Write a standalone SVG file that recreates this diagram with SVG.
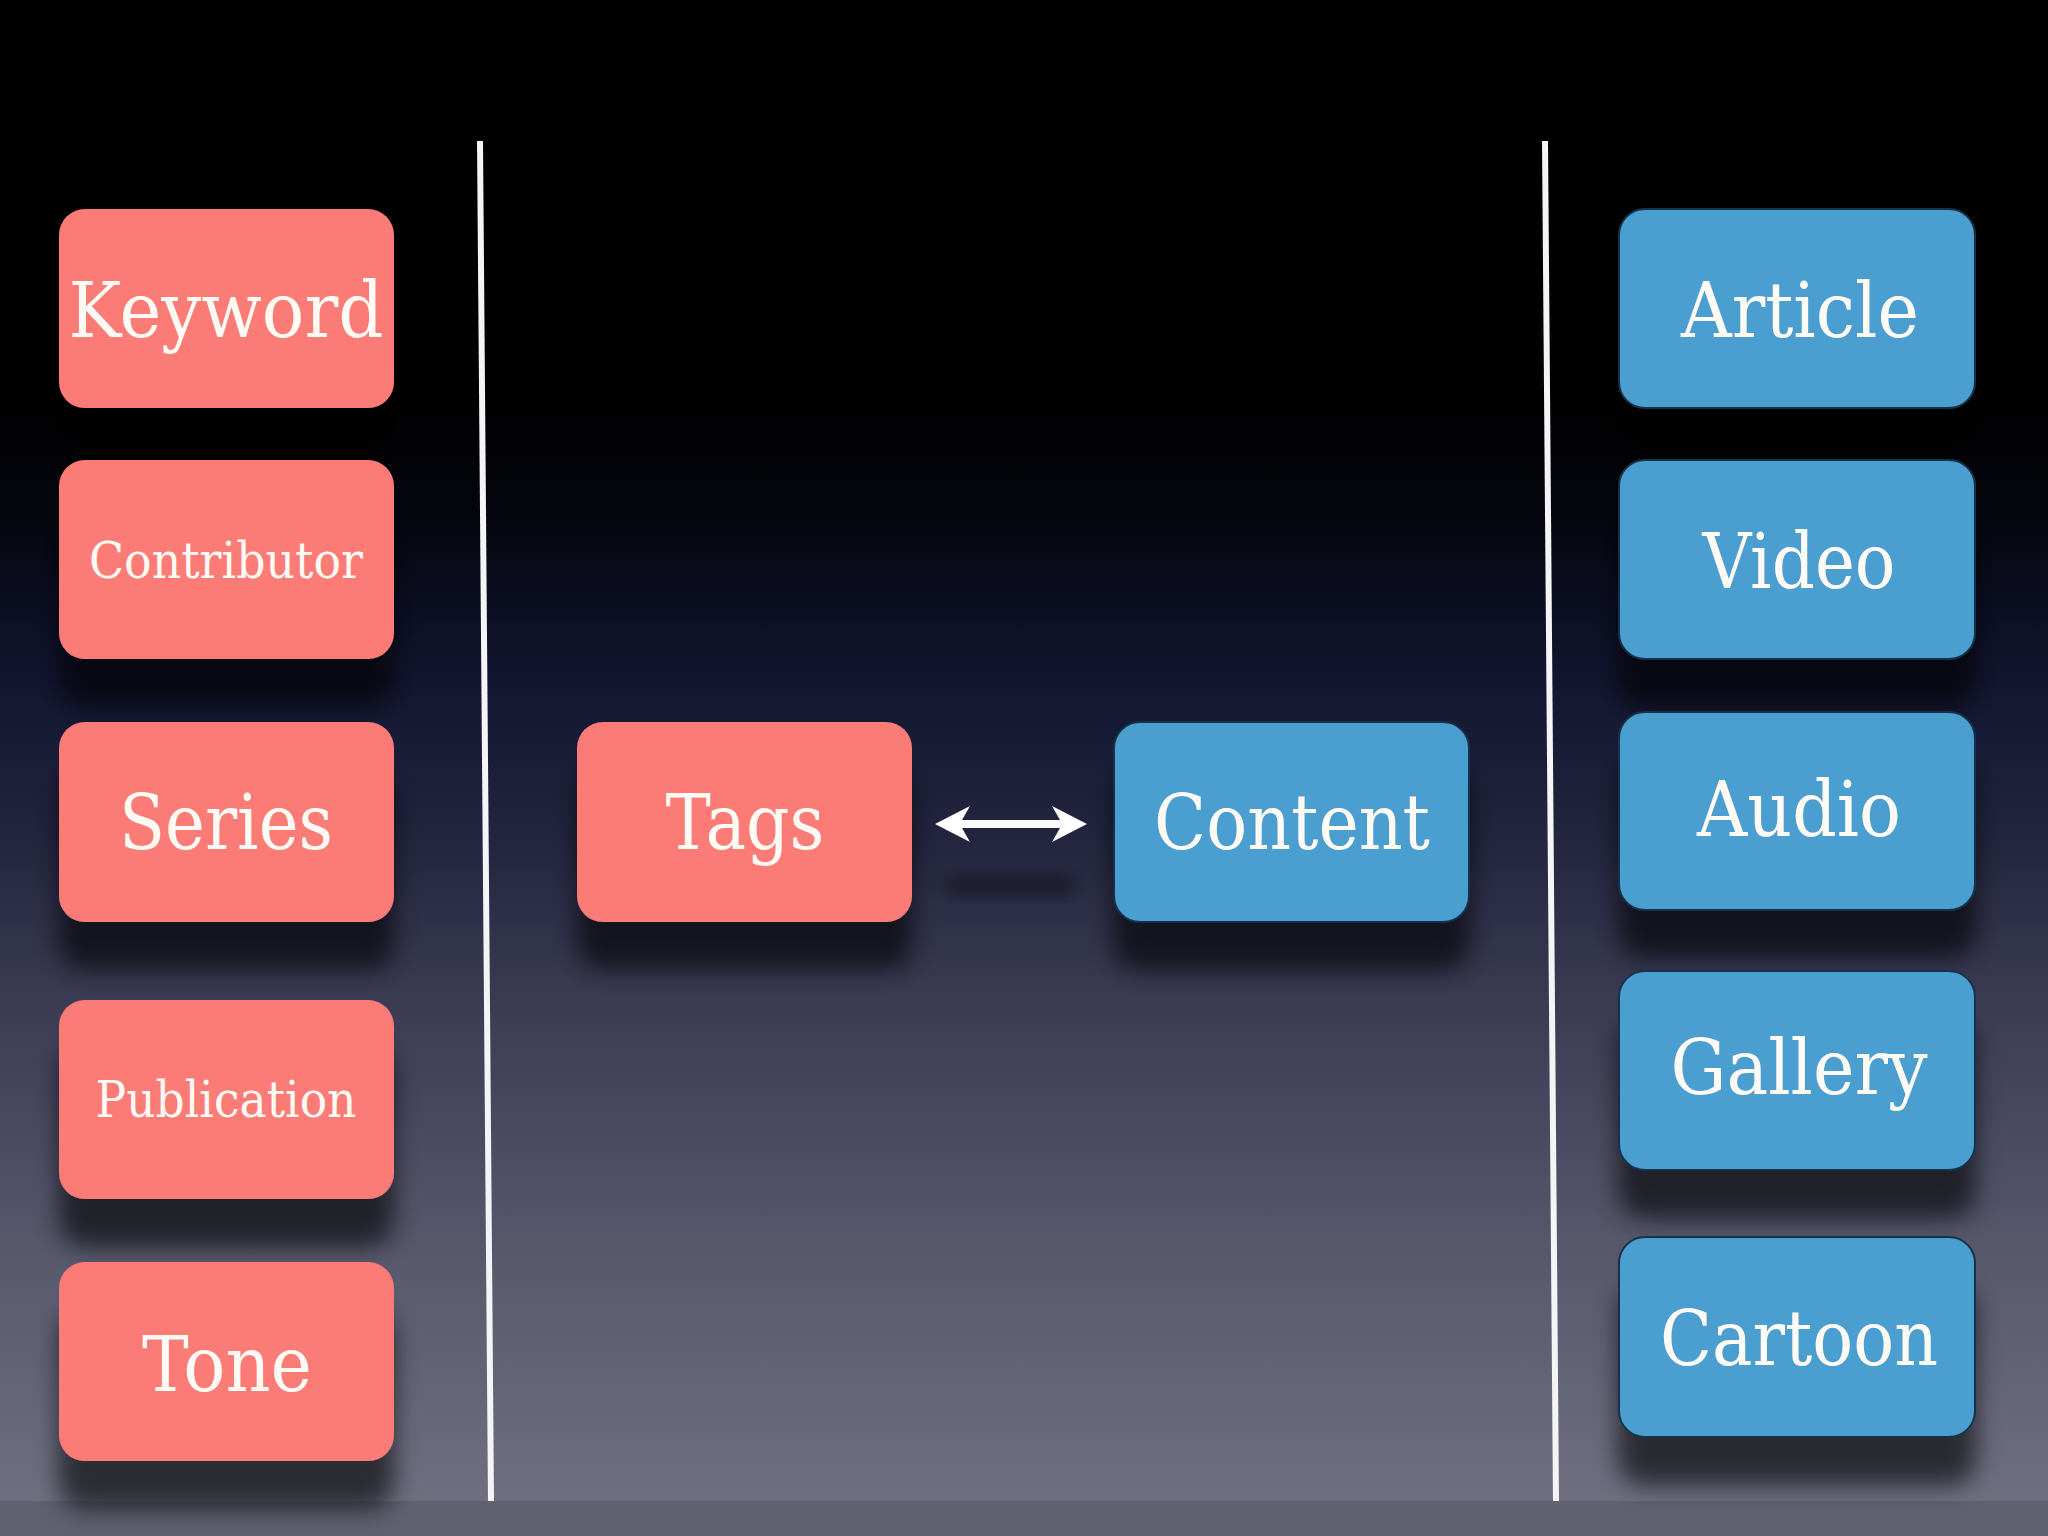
<svg xmlns="http://www.w3.org/2000/svg" width="2048" height="1536" viewBox="0 0 2048 1536">
  <style>
    .red { fill: #fb7c77; }
    .blue { fill: #4b9ed0; stroke: #17324a; stroke-width: 2; }
    .t { font-family: "DejaVu Serif", "Liberation Serif", serif; fill: #fffaf3; text-anchor: middle; }
    .big { font-size: 76px; }
    .small { font-size: 50px; }
    .divider { stroke: #f4f4f6; stroke-width: 6; }
  </style>
  <defs>
    <linearGradient id="bg" x1="0" y1="0" x2="0" y2="1">
      <stop offset="0" stop-color="#000000"/>
      <stop offset="0.26" stop-color="#010102"/>
      <stop offset="0.33" stop-color="#04050c"/>
      <stop offset="0.40" stop-color="#0c0f24"/>
      <stop offset="0.46" stop-color="#151833"/>
      <stop offset="0.55" stop-color="#24263f"/>
      <stop offset="0.66" stop-color="#3c3d55"/>
      <stop offset="0.82" stop-color="#58596d"/>
      <stop offset="1" stop-color="#727283"/>
    </linearGradient>
    <filter id="sh" x="-15%" y="-20%" width="130%" height="190%">
      <feDropShadow dx="0" dy="48" stdDeviation="12" flood-color="#000000" flood-opacity="0.6"/>
    </filter>
    <filter id="blur" x="-20%" y="-50%" width="140%" height="200%">
      <feGaussianBlur stdDeviation="8"/>
    </filter>
  </defs>

  <rect x="0" y="0" width="2048" height="1536" fill="url(#bg)"/>
  <rect x="0" y="1501" width="2048" height="35" fill="#5f6070"/>

  <g id="dividers">
    <line class="divider" x1="480" y1="141" x2="491" y2="1501"/>
    <line class="divider" x1="1545" y1="141" x2="1556" y2="1501"/>
  </g>

  <g id="node-keyword">
    <rect class="red" x="59" y="209" width="335" height="199" rx="26" filter="url(#sh)"/>
    <text class="t big" x="226" y="337" textLength="315" lengthAdjust="spacingAndGlyphs">Keyword</text>
  </g>
  <g id="node-contributor">
    <rect class="red" x="59" y="460" width="335" height="199" rx="26" filter="url(#sh)"/>
    <text class="t small" x="226" y="578" textLength="274" lengthAdjust="spacingAndGlyphs">Contributor</text>
  </g>
  <g id="node-series">
    <rect class="red" x="59" y="722" width="335" height="200" rx="26" filter="url(#sh)"/>
    <text class="t big" x="226" y="849" textLength="214" lengthAdjust="spacingAndGlyphs">Series</text>
  </g>
  <g id="node-publication">
    <rect class="red" x="59" y="1000" width="335" height="199" rx="26" filter="url(#sh)"/>
    <text class="t small" x="226" y="1117" textLength="261" lengthAdjust="spacingAndGlyphs">Publication</text>
  </g>
  <g id="node-tone">
    <rect class="red" x="59" y="1262" width="335" height="199" rx="26" filter="url(#sh)"/>
    <text class="t big" x="227" y="1391" textLength="170" lengthAdjust="spacingAndGlyphs">Tone</text>
  </g>

  <g id="node-tags">
    <rect class="red" x="577" y="722" width="335" height="200" rx="26" filter="url(#sh)"/>
    <text class="t big" x="745" y="849" textLength="159" lengthAdjust="spacingAndGlyphs">Tags</text>
  </g>
  <g id="node-content">
    <rect class="blue" x="1114" y="722" width="355" height="200" rx="26" filter="url(#sh)"/>
    <text class="t big" x="1292" y="849" textLength="276" lengthAdjust="spacingAndGlyphs">Content</text>
  </g>

  <g id="node-article">
    <rect class="blue" x="1619" y="209" width="356" height="199" rx="26" filter="url(#sh)"/>
    <text class="t big" x="1800" y="337" textLength="238" lengthAdjust="spacingAndGlyphs">Article</text>
  </g>
  <g id="node-video">
    <rect class="blue" x="1619" y="460" width="356" height="199" rx="26" filter="url(#sh)"/>
    <text class="t big" x="1799" y="588" textLength="193" lengthAdjust="spacingAndGlyphs">Video</text>
  </g>
  <g id="node-audio">
    <rect class="blue" x="1619" y="712" width="356" height="198" rx="26" filter="url(#sh)"/>
    <text class="t big" x="1799" y="836" textLength="204" lengthAdjust="spacingAndGlyphs">Audio</text>
  </g>
  <g id="node-gallery">
    <rect class="blue" x="1619" y="971" width="356" height="199" rx="26" filter="url(#sh)"/>
    <text class="t big" x="1799" y="1094" textLength="257" lengthAdjust="spacingAndGlyphs">Gallery</text>
  </g>
  <g id="node-cartoon">
    <rect class="blue" x="1619" y="1237" width="356" height="200" rx="26" filter="url(#sh)"/>
    <text class="t big" x="1799" y="1365" textLength="278" lengthAdjust="spacingAndGlyphs">Cartoon</text>
  </g>

  <g id="connectors">
    <rect x="945" y="876" width="130" height="18" rx="9" fill="#000" opacity="0.4" filter="url(#blur)"/>
    <path d="M935,824 L970,806 L962,820 L1060,820 L1052,806 L1087,824 L1052,842 L1060,828 L962,828 L970,842 Z" fill="#ffffff"/>
  </g>
</svg>
